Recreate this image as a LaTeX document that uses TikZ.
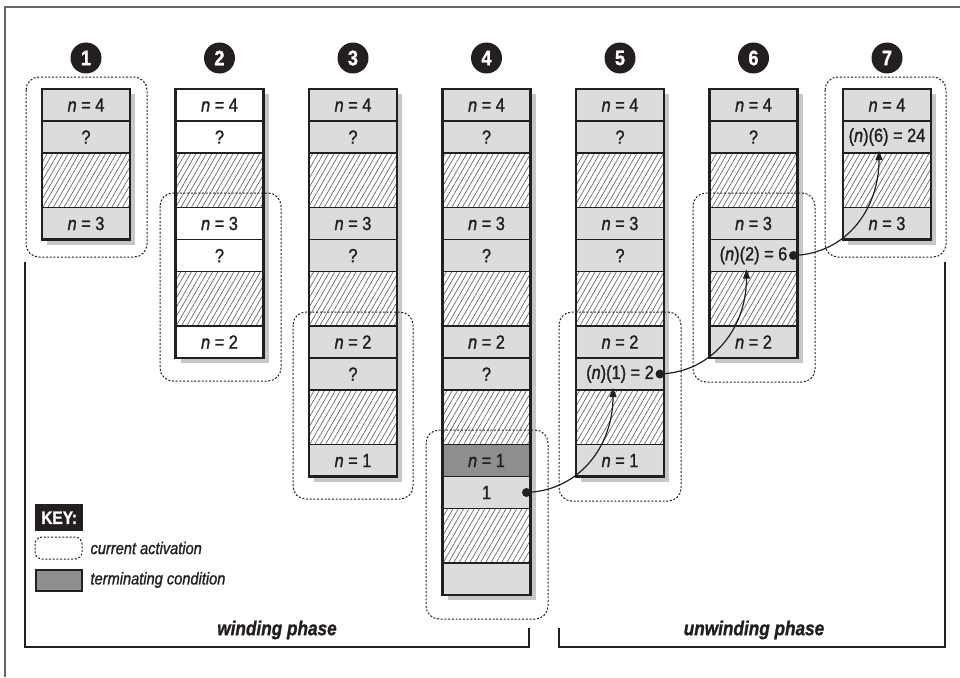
\documentclass[tikz,border=0pt]{standalone}
\usepackage{fontspec}
\setmainfont[FakeStretch=0.88]{Liberation Sans}
\newfontfamily\cellfont[FakeStretch=0.86,FakeBold=1.2]{Liberation Sans}
\usetikzlibrary{patterns.meta,arrows.meta,calc}
\definecolor{cellgray}{HTML}{DCDCDC}
\definecolor{termgray}{HTML}{8E8E8E}
\definecolor{ink}{HTML}{231F20}
\newcommand\cl[5]{\node[cell,#4] (#1) at (#2,#3) {#5};}
\begin{document}
\begin{tikzpicture}[x=1pt,y=-1pt,
  cell/.style={draw=ink,line width=1.8pt,minimum width=88pt,minimum height=32pt,
    inner sep=0pt,outer sep=0pt,anchor=north west,text=ink,font=\cellfont\fontsize{19}{21}\selectfont},
  gcell/.style={fill=cellgray},
  wcell/.style={fill=white},
  tcell/.style={fill=termgray},
  hatchcell/.style={minimum height=54.5pt,preaction={fill=white},
    pattern={Lines[angle=60,distance=4.6pt,line width=0.6pt]},pattern color=black!65},
  shade/.style={fill=black!22},
  colframe/.style={draw=ink,line width=2.6pt},
  dotbox/.style={draw=ink,line width=1pt,dash pattern=on 2pt off 1.7pt,rounded corners=13pt},
  numc/.style={circle,fill=ink,minimum size=31pt,inner sep=0pt,text=white,
    font=\cellfont\bfseries\fontsize{21}{22}\selectfont},
  arr/.style={draw=ink,line width=1.2pt,-{Triangle[width=7pt,length=9pt]}},
  phase/.style={font=\cellfont\bfseries\itshape\fontsize{20}{22}\selectfont,text=ink},
  keytxt/.style={font=\cellfont\itshape\fontsize{17}{19}\selectfont,anchor=west,text=ink},
  bracket/.style={draw=ink,line width=2.4pt}
]
\useasboundingbox (0,0) rectangle (960,677);
\draw[black!60,line width=2pt] (5,677) -- (5,7) -- (960,7);

% shadows
\fill[shade] (47,94) rectangle (135,244.5);
\fill[shade] (180.5,94) rectangle (268.5,363);
\fill[shade] (314,94) rectangle (402,481.5);
\fill[shade] (447.5,94) rectangle (535.5,600);
\fill[shade] (581,94) rectangle (669,481.5);
\fill[shade] (714.5,94) rectangle (802.5,363);
\fill[shade] (848,94) rectangle (936,244.5);

% column 1
\cl{c1a}{42}{89}{gcell}{\textit{n} = 4}
\cl{c1b}{42}{121}{gcell}{?}
\cl{c1c}{42}{153}{hatchcell}{}
\cl{c1d}{42}{207.5}{gcell}{\textit{n} = 3}
\draw[colframe] (42,89) rectangle (130,239.5);

% column 2
\cl{c2a}{175.5}{89}{wcell}{\textit{n} = 4}
\cl{c2b}{175.5}{121}{wcell}{?}
\cl{c2c}{175.5}{153}{hatchcell}{}
\cl{c2d}{175.5}{207.5}{wcell}{\textit{n} = 3}
\cl{c2e}{175.5}{239.5}{wcell}{?}
\cl{c2f}{175.5}{271.5}{hatchcell}{}
\cl{c2g}{175.5}{326}{wcell}{\textit{n} = 2}
\draw[colframe] (175.5,89) rectangle (263.5,358);

% column 3
\cl{c3a}{309}{89}{gcell}{\textit{n} = 4}
\cl{c3b}{309}{121}{gcell}{?}
\cl{c3c}{309}{153}{hatchcell}{}
\cl{c3d}{309}{207.5}{gcell}{\textit{n} = 3}
\cl{c3e}{309}{239.5}{gcell}{?}
\cl{c3f}{309}{271.5}{hatchcell}{}
\cl{c3g}{309}{326}{gcell}{\textit{n} = 2}
\cl{c3h}{309}{358}{gcell}{?}
\cl{c3i}{309}{390}{hatchcell}{}
\cl{c3j}{309}{444.5}{gcell}{\textit{n} = 1}
\draw[colframe] (309,89) rectangle (397,476.5);

% column 4
\cl{c4a}{442.5}{89}{gcell}{\textit{n} = 4}
\cl{c4b}{442.5}{121}{gcell}{?}
\cl{c4c}{442.5}{153}{hatchcell}{}
\cl{c4d}{442.5}{207.5}{gcell}{\textit{n} = 3}
\cl{c4e}{442.5}{239.5}{gcell}{?}
\cl{c4f}{442.5}{271.5}{hatchcell}{}
\cl{c4g}{442.5}{326}{gcell}{\textit{n} = 2}
\cl{c4h}{442.5}{358}{gcell}{?}
\cl{c4i}{442.5}{390}{hatchcell}{}
\cl{c4j}{442.5}{444.5}{tcell}{\textit{n} = 1}
\cl{c4k}{442.5}{476.5}{gcell}{1}
\cl{c4l}{442.5}{508.5}{hatchcell}{}
\cl{c4m}{442.5}{563}{gcell}{}
\draw[colframe] (442.5,89) rectangle (530.5,595);

% column 5
\cl{c5a}{576}{89}{gcell}{\textit{n} = 4}
\cl{c5b}{576}{121}{gcell}{?}
\cl{c5c}{576}{153}{hatchcell}{}
\cl{c5d}{576}{207.5}{gcell}{\textit{n} = 3}
\cl{c5e}{576}{239.5}{gcell}{?}
\cl{c5f}{576}{271.5}{hatchcell}{}
\cl{c5g}{576}{326}{gcell}{\textit{n} = 2}
\cl{c5h}{576}{358}{gcell}{(\textit{n})(1) = 2}
\cl{c5i}{576}{390}{hatchcell}{}
\cl{c5j}{576}{444.5}{gcell}{\textit{n} = 1}
\draw[colframe] (576,89) rectangle (664,476.5);

% column 6
\cl{c6a}{709.5}{89}{gcell}{\textit{n} = 4}
\cl{c6b}{709.5}{121}{gcell}{?}
\cl{c6c}{709.5}{153}{hatchcell}{}
\cl{c6d}{709.5}{207.5}{gcell}{\textit{n} = 3}
\cl{c6e}{709.5}{239.5}{gcell}{(\textit{n})(2) = 6}
\cl{c6f}{709.5}{271.5}{hatchcell}{}
\cl{c6g}{709.5}{326}{gcell}{\textit{n} = 2}
\draw[colframe] (709.5,89) rectangle (797.5,358);

% column 7
\cl{c7a}{843}{89}{gcell}{\textit{n} = 4}
\cl{c7b}{843}{121}{gcell}{(\textit{n})(6) = 24}
\cl{c7c}{843}{153}{hatchcell}{}
\cl{c7d}{843}{207.5}{gcell}{\textit{n} = 3}
\draw[colframe] (843,89) rectangle (931,239.5);

% current activation boxes
\draw[dotbox] (26,77) rectangle (147,257);
\draw[dotbox] (160,193) rectangle (281,381);
\draw[dotbox] (293,312) rectangle (413,499);
\draw[dotbox] (426,430) rectangle (548,619);
\draw[dotbox] (559,312) rectangle (681,501);
\draw[dotbox] (693,193) rectangle (815,382);
\draw[dotbox] (825,77) rectangle (946,257);

% step numbers
\node[numc] (k1) at (86,58) {1};
\node[numc] (k2) at (219.5,58) {2};
\node[numc] (k3) at (353,58) {3};
\node[numc] (k4) at (486.5,58) {4};
\node[numc] (k5) at (620,58) {5};
\node[numc] (k6) at (753.5,58) {6};
\node[numc] (k7) at (887,58) {7};

% return arrows
\coordinate (s1) at ($(c4k.east)+(-4,0)$);
\coordinate (e1) at ($(c5h.south)+(-7,-2)$);
\coordinate (s2) at ($(c5h.east)+(-4,0)$);
\coordinate (e2) at ($(c6e.south)+(-7,-2)$);
\coordinate (s3) at ($(c6e.east)+(-4,0)$);
\coordinate (e3) at ($(c7b.south)+(-8,-2)$);
\draw[arr] (s1) .. controls ($(s1)+(53,-2)$) and ($(e1)+(0,58)$) .. (e1);
\draw[arr] (s2) .. controls ($(s2)+(53,-2)$) and ($(e2)+(0,58)$) .. (e2);
\draw[arr] (s3) .. controls ($(s3)+(53,-2)$) and ($(e3)+(0,58)$) .. (e3);
\fill[ink] (s1) circle (4.5pt);
\fill[ink] (s2) circle (4.5pt);
\fill[ink] (s3) circle (4.5pt);

% key
\node[fill=ink,text=white,font=\cellfont\bfseries\fontsize{18}{19}\selectfont,minimum width=48pt,
  minimum height=27pt,inner sep=0pt,anchor=north west] (key) at (35,504) {KEY:};
\draw[dotbox,rounded corners=7pt] (35,537) rectangle (82,559);
\node[keytxt] (kt1) at (87,548) {current activation};
\draw[draw=ink,line width=2pt,fill=termgray] (36,570) rectangle (82,591);
\node[keytxt] (kt2) at (87,580) {terminating condition};

% phase brackets
\draw[bracket] (25,262) -- (25,647) -- (529,647) -- (529,628);
\draw[bracket] (559,628) -- (559,647) -- (945,647) -- (945,262);
\node[phase] (wp) at (277,630) {winding phase};
\node[phase] (up) at (754,630) {unwinding phase};
\end{tikzpicture}
\end{document}
